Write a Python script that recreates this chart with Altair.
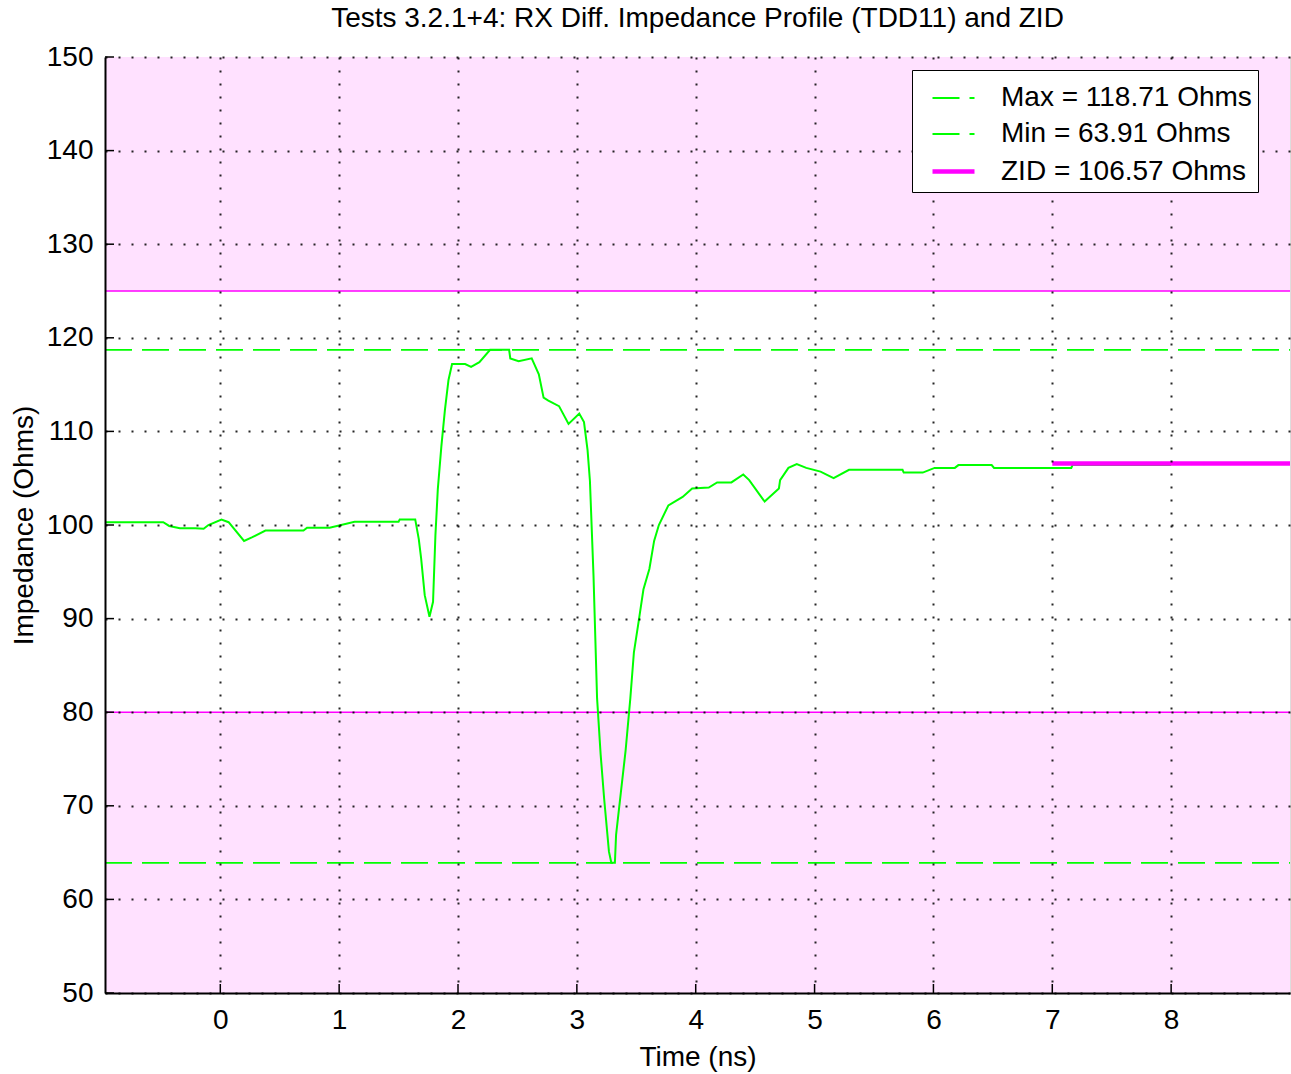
import altair as alt
import pandas as pd

# Differential impedance profile (TDD11) samples
TIME_NS = [-0.97, -0.48, -0.43, -0.34, -0.21, -0.14, -0.10, 0.01, 0.07, 0.20, 0.27, 0.38,
           0.70, 0.73, 0.92, 1.13, 1.50, 1.51, 1.64, 1.67, 1.69, 1.72, 1.76, 1.79, 1.81,
           1.83, 1.86, 1.89, 1.92, 1.95, 2.06, 2.11, 2.18, 2.27, 2.43, 2.44, 2.51, 2.62,
           2.68, 2.72, 2.76, 2.85, 2.93, 3.02, 3.06, 3.09, 3.11, 3.14, 3.17, 3.20, 3.23,
           3.27, 3.29, 3.32, 3.33, 3.37, 3.41, 3.45, 3.48, 3.52, 3.56, 3.61, 3.65, 3.69,
           3.77, 3.89, 3.97, 4.11, 4.18, 4.30, 4.40, 4.45, 4.58, 4.70, 4.71, 4.78, 4.85,
           4.93, 5.05, 5.16, 5.29, 5.74, 5.75, 5.91, 6.01, 6.18, 6.21, 6.49, 6.51, 7.16,
           7.17, 8.00]
IMPEDANCE = [100.3, 100.3, 99.9, 99.65, 99.65, 99.6, 100.0, 100.57, 100.3, 98.3, 98.7, 99.4,
             99.4, 99.7, 99.7, 100.35, 100.35, 100.6, 100.6, 98.5, 96.4, 92.5, 90.2, 91.8, 98.9,
             103.8, 108.4, 112.3, 115.5, 117.2, 117.2, 116.9, 117.4, 118.71, 118.71, 117.8, 117.5, 117.8,
             116.1, 113.6, 113.3, 112.7, 110.8, 111.9, 111.0, 108.0, 104.7, 94.6, 81.5, 75.5, 70.7,
             65.1, 63.91, 63.91, 66.9, 71.4, 75.9, 81.5, 86.4, 89.7, 93.1, 95.3, 98.3, 100.0,
             102.1, 103.0, 103.9, 104.0, 104.55, 104.55, 105.4, 104.8, 102.5, 103.9, 104.8, 106.1, 106.5,
             106.1, 105.7, 105.0, 105.9, 105.9, 105.6, 105.6, 106.1, 106.1, 106.4, 106.4, 106.1, 106.1,
             106.4, 106.4]

# Axis ranges and ticks
X_DOMAIN = [-0.97, 9.0]
Y_DOMAIN = [50, 150]
X_TICKS = [0, 1, 2, 3, 4, 5, 6, 7, 8]
Y_TICKS = [50, 60, 70, 80, 90, 100, 110, 120, 130, 140, 150]

# Out-of-spec bands (Ohms)
BAND_LOW = [50, 125]
BAND_HIGH = [80, 150]
LIMITS = [80, 125]

# Reference lines shown in the legend
REF_LABELS = ["Max = 118.71 Ohms", "Min = 63.91 Ohms", "ZID = 106.57 Ohms"]
REF_VALUES = [118.71, 63.91, 106.57]
REF_START = [-0.97, -0.97, 7.0]
REF_END = [9.0, 9.0, 9.0]

W, H = 1185, 936
FONT = "Liberation Sans"
FS = 28
GREEN = "#00ff00"
MAGENTA = "#ff00ff"
PINK = "#ffe1ff"

curve = pd.DataFrame({"t": TIME_NS, "z": IMPEDANCE})
bands = pd.DataFrame({"lo": BAND_LOW, "hi": BAND_HIGH,
                      "x0": [X_DOMAIN[0]] * 2, "x1": [X_DOMAIN[1]] * 2})
limits = pd.DataFrame({"z": LIMITS, "x0": [X_DOMAIN[0]] * 2, "x1": [X_DOMAIN[1]] * 2})
refs = pd.DataFrame({"label": REF_LABELS, "z": REF_VALUES, "x0": REF_START, "x1": REF_END})
xticks = pd.DataFrame({"t": X_TICKS})
yticks = pd.DataFrame({"z": Y_TICKS})

grid_axis = dict(grid=True, gridColor="#000000", gridDash=[2, 11], gridWidth=2, gridOpacity=0.85,
                 domainColor="#000000", domainWidth=2, ticks=False, format="d",
                 labelFont=FONT, labelFontSize=FS, labelColor="#000000",
                 titleFont=FONT, titleFontSize=FS, titleFontWeight="normal", titleColor="#000000",
                 zindex=1)

x_scale = alt.Scale(domain=X_DOMAIN, nice=False, zero=False)
y_scale = alt.Scale(domain=Y_DOMAIN, nice=False, zero=False)

x_enc = alt.X("x0:Q", scale=x_scale, axis=alt.Axis(values=X_TICKS, title="Time (ns)",
                                                 labelPadding=13, titlePadding=9, **grid_axis))
y_enc = alt.Y("lo:Q", scale=y_scale, axis=alt.Axis(values=Y_TICKS, title="Impedance (Ohms)",
                                                 labelPadding=12, titlePadding=8, **grid_axis))

band_layer = alt.Chart(bands).mark_rect(color=PINK).encode(
    x=x_enc, x2="x1:Q", y=y_enc, y2="hi:Q")

limit_layer = alt.Chart(limits).mark_rule(color=MAGENTA, strokeWidth=1.5).encode(
    x=alt.X("x0:Q", scale=x_scale), x2="x1:Q", y=alt.Y("z:Q", scale=y_scale))

curve_layer = alt.Chart(curve).mark_line(color=GREEN, strokeWidth=2).encode(
    x=alt.X("t:Q", scale=x_scale), y=alt.Y("z:Q", scale=y_scale))

legend = alt.Legend(orient="none", legendX=807, legendY=13, zindex=2,
                    symbolType="stroke", symbolSize=1764, symbolOffset=12,
                    labelFont=FONT, labelFontSize=FS, labelColor="#000000",
                    labelOffset=24, labelLimit=600, rowPadding=-2,
                    fillColor="#ffffff", strokeColor="#000000", padding=6)

ref_layer = alt.Chart(refs).mark_rule().encode(
    x=alt.X("x0:Q", scale=x_scale), x2="x1:Q", y=alt.Y("z:Q", scale=y_scale),
    color=alt.Color("label:N", title="",
                    scale=alt.Scale(domain=REF_LABELS, range=[GREEN, GREEN, MAGENTA]),
                    legend=legend),
    strokeDash=alt.StrokeDash("label:N", title="", legend=legend,
                              scale=alt.Scale(domain=REF_LABELS, range=[[27, 10], [27, 10], [1, 0]])),
    strokeWidth=alt.StrokeWidth("label:N", title="", legend=legend,
                                scale=alt.Scale(type="ordinal", domain=REF_LABELS,
                                                range=[1.8, 1.8, 4.5])),
)

xtick_layer = alt.Chart(xticks).mark_rule(color="#000000", strokeWidth=1.5).encode(
    x=alt.X("t:Q", scale=x_scale), y=alt.value(H), y2=alt.value(H - 9))
ytick_layer = alt.Chart(yticks).mark_rule(color="#000000", strokeWidth=1.5).encode(
    y=alt.Y("z:Q", scale=y_scale), x=alt.value(0), x2=alt.value(9))

chart = alt.layer(
    band_layer, limit_layer, curve_layer, ref_layer, xtick_layer, ytick_layer
).properties(
    width=W, height=H,
    title=alt.Title("Tests 3.2.1+4: RX Diff. Impedance Profile (TDD11) and ZID",
                    font=FONT, fontSize=FS, fontWeight="normal", color="#000000", offset=10),
    autosize=alt.AutoSizeParams(type="none"),
    padding={"left": 105, "top": 57, "right": 1, "bottom": 81},
).configure_view(stroke=None).configure(background="#ffffff")

chart.save("out.html", embed_options={"renderer": "svg", "actions": False})
